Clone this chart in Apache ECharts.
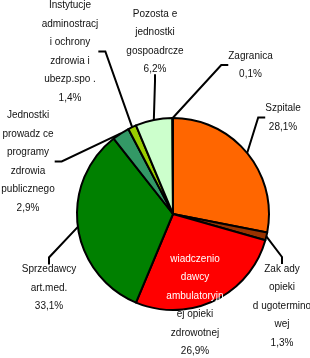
<!DOCTYPE html>
<html>
<head>
<meta charset="utf-8">
<script src="https://cdn.jsdelivr.net/npm/echarts@6/dist/echarts.min.js"></script>
<style>
html,body{margin:0;padding:0;background:#fff;}
#chart{width:310px;height:358px;}
</style>
</head>
<body>
<div id="chart"></div>
<script>
// ---- data ----
const categories = [
  ['Szpitale'],
  ['Zak ady', 'opieki', 'd ugotermino', 'wej'],
  ['wiadczenio', 'dawcy', 'ambulatoryjn', 'ej opieki', 'zdrowotnej'],
  ['Sprzedawcy', 'art.med.'],
  ['Jednostki', 'prowadz ce', 'programy', 'zdrowia', 'publicznego'],
  ['Instytucje', 'adminostracj', 'i ochrony', 'zdrowia i', 'ubezp.spo .'],
  ['Pozosta e', 'jednostki', 'gospoadrcze'],
  ['Zagranica']
];
const values = [28.1, 1.3, 26.9, 33.1, 2.9, 1.4, 6.2, 0.1];

// ---- styles / layout ----
const sliceColors = ['#FF6600', '#993300', '#FF0000', '#008000', '#339966', '#99CC00', '#CCFFCC', '#E6FFE6'];
const labelCenters = [[283,117.5],[282,306],[195,305],[49,288],[28,161.5],[70,51.5],[155,41.5],[250.5,65]];
const leaderSides = ['left','top',null,'top','right','right','bottom','left'];
const whiteLines = [0, 0, 3, 0, 0, 0, 0, 0]; // number of leading lines drawn in white
const LH = 18.5;
const LEN2 = 7;

function fmtPct(v){ return v.toFixed(1).replace('.', ',') + '%'; }

const data = values.map(function(v, i){
  const item = { value: v, name: categories[i].join(' ') };
  if (!leaderSides[i]) item.labelLine = { show: false };
  return item;
});

const chart = echarts.init(document.getElementById('chart'), null, {renderer: 'canvas'});
chart.setOption({
  backgroundColor: '#ffffff',
  animation: false,
  color: sliceColors,
  series: [{
    type: 'pie',
    center: [173, 214],
    radius: 96,
    startAngle: 90,
    clockwise: true,
    avoidLabelOverlap: false,
    data: data,
    itemStyle: { borderColor: '#000', borderWidth: 2 },
    emphasis: { disabled: true },
    label: {
      show: true,
      position: 'outside',
      alignTo: 'none',
      align: 'center',
      fontFamily: 'Liberation Sans, Arial, sans-serif',
      fontSize: 10,
      color: '#000',
      formatter: function(p){
        const i = p.dataIndex;
        const lines = categories[i].concat([fmtPct(values[i])]);
        return lines.map(function(t, k){
          return (k < whiteLines[i] ? '{w|' : '{b|') + t + '}';
        }).join('\n');
      },
      rich: {
        b: { fontFamily: 'Liberation Sans, Arial, sans-serif', fontSize: 10, color: '#111', lineHeight: LH },
        w: { fontFamily: 'Liberation Sans, Arial, sans-serif', fontSize: 10, color: '#fff', lineHeight: LH,
             textShadowColor: '#555', textShadowOffsetX: 1, textShadowOffsetY: 1, textShadowBlur: 0 }
      }
    },
    labelLine: {
      show: true,
      length: 10,
      length2: LEN2,
      lineStyle: { color: '#000', width: 2 }
    },
    labelLayout: function(params){
      const i = params.dataIndex;
      const c = labelCenters[i];
      const w = params.labelRect.width, h = params.labelRect.height;
      const out = { x: c[0], y: c[1], align: 'center', verticalAlign: 'middle' };
      const side = leaderSides[i];
      if (side && params.labelLinePoints) {
        const anchor = params.labelLinePoints[0];
        let p0, p1;
        if (side === 'left') { p0 = [c[0] - w/2, c[1]]; p1 = [p0[0] - LEN2, p0[1]]; }
        else if (side === 'right') { p0 = [c[0] + w/2, c[1]]; p1 = [p0[0] + LEN2, p0[1]]; }
        else if (side === 'top') { p0 = [c[0], c[1] - h/2]; p1 = [p0[0], p0[1] - LEN2]; }
        else { p0 = [c[0], c[1] + h/2]; p1 = [p0[0], p0[1] + LEN2]; }
        out.labelLinePoints = [[anchor[0], anchor[1]], p1, p0];
      }
      return out;
    }
  }]
});
</script>
</body>
</html>
